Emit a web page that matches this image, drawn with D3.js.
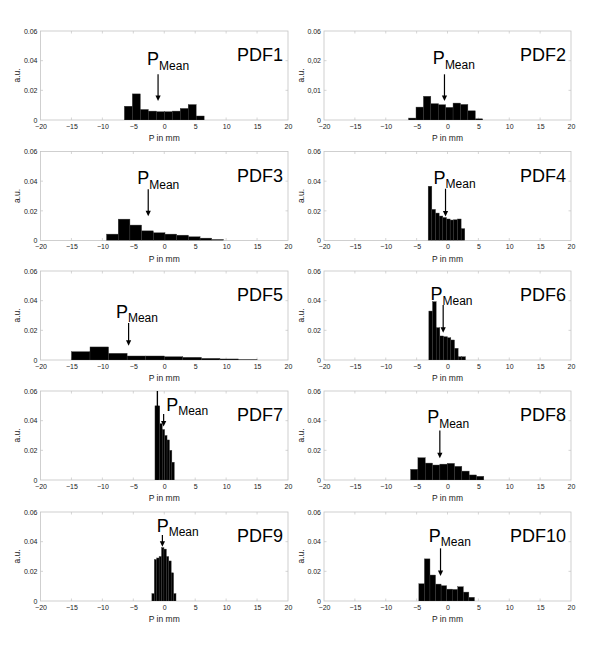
<!DOCTYPE html>
<html>
<head>
<meta charset="utf-8">
<script src="https://cdn.jsdelivr.net/npm/d3@7"></script>
<style>
  body { margin: 0; background: #fff; }
  text { font-family: "Liberation Sans", Arial, sans-serif; }
</style>
</head>
<body>
<svg id="vis"></svg>
<script>
//DATOS--------------------------------------------------------------------------------------------
const NOMBRES = ["PDF1", "PDF2", "PDF3", "PDF4", "PDF5", "PDF6", "PDF7", "PDF8", "PDF9", "PDF10"];

// inicio del primer bin y ancho de bin (mm)
const INICIO_BIN = [-6.45, -6.3, -9.33, -3.13, -15, -3.02, -1.5, -5.98, -2.0, -4.64];
const ANCHO_BIN = [1.29, 1.2, 1.89, 0.593, 3, 0.593, 0.39, 1.186, 0.39, 0.9];

// alturas de cada bin (a.u.)
const PDF1 = [0.0093, 0.0176, 0.0071, 0.006, 0.0056, 0.0056, 0.006, 0.0078, 0.0104, 0.0027];
const PDF2 = [0.0013, 0.0087, 0.016, 0.011, 0.0103, 0.0085, 0.0114, 0.0105, 0.0062, 0.0008];
const PDF3 = [0.0043, 0.0144, 0.0104, 0.0065, 0.0052, 0.0043, 0.0036, 0.0025, 0.0016, 0.0007];
const PDF4 = [0.0366, 0.021, 0.0185, 0.0165, 0.0155, 0.0145, 0.0138, 0.014, 0.0145, 0.008];
const PDF5 = [0.0056, 0.0088, 0.0045, 0.0027, 0.0027, 0.0022, 0.0018, 0.0011, 0.0007, 0.0002];
const PDF6 = [0.033, 0.0393, 0.0218, 0.0162, 0.0157, 0.015, 0.0135, 0.0079, 0.0022, 0.0022];
const PDF7 = [0.05, 0.05, 0.038, 0.034, 0.03, 0.027, 0.02, 0.012];
const PDF8 = [0.0072, 0.015, 0.0114, 0.0101, 0.0107, 0.0112, 0.0092, 0.006, 0.0034, 0.0025];
const PDF9 = [0.005, 0.028, 0.029, 0.03, 0.036, 0.035, 0.03, 0.027, 0.019, 0.005];
const PDF10 = [0.0116, 0.0284, 0.0175, 0.0114, 0.0103, 0.008, 0.0078, 0.0096, 0.006, 0.0025];
const ALTURAS = [PDF1, PDF2, PDF3, PDF4, PDF5, PDF6, PDF7, PDF8, PDF9, PDF10];

// pico angosto de PDF7 (sale por arriba del eje)
const PICO_PDF7 = { x0: -1.22, x1: -1.0, y: 0.065 };

// flecha P_Mean: posicion media (mm), inicio y punta (a.u.)
const MEDIA = [-1.0, -0.49, -2.59, -0.32, -5.76, -0.7, -0.1, -1.24, -0.3, -1.13];
const FLECHA_INICIO = [0.0308, 0.0308, 0.0346, 0.0349, 0.025, 0.037, 0.0445, 0.0333, 0.0445, 0.0355];
const FLECHA_PUNTA = [0.0128, 0.0128, 0.0164, 0.0162, 0.0096, 0.0184, 0.036, 0.0146, 0.0366, 0.0169];

const X_TICKS = [-20, -15, -10, -5, 0, 5, 10, 15, 20];
const Y_TICKS = [0, 0.02, 0.04, 0.06];
const Y_LABELS = ["0", "0.02", "0.04", "0.06"];
const Y_LABELS_PDF2 = ["0", "0,01", "0,02", "0.06"];

//LAYOUT-------------------------------------------------------------------------------------------
const WIDTH = 600;
const HEIGHT = 646;
const COLUMNAS = [
  { x0: 40.5, x1: 288 },
  { x0: 324, x1: 571 },
];
const FILAS_TOP = [31, 151.5, 271, 391, 512];
const ALTO_PANEL = 89;
// desplazamiento del texto P_Mean respecto a la flecha (px)
const LABEL_DX = [-11, -11.6, -11, -12, -12.7, -12.7, 2.5, -12.7, -5.7, -11.7];
const LABEL_GAP = [9.3, 10, 4.7, 5, 5, 5, 3, 7.4, 3, 6.6];
const GRIS = "#c4c4c4";

const svg = d3.select("#vis").attr("width", WIDTH).attr("height", HEIGHT);
const defs = svg.append("defs");

//FUNCIONES----------------------------------------------------------------------------------------
function dibujarPanel(i) {
  const col = COLUMNAS[i % 2];
  const top = FILAS_TOP[Math.floor(i / 2)];
  const bottom = top + ALTO_PANEL;

  const escalaX = d3.scaleLinear().domain([-20, 20]).range([col.x0, col.x1]);
  const escalaY = d3.scaleLinear().domain([0, 0.06]).range([bottom, top]);

  const g = svg.append("g").attr("class", "panel");

  defs
    .append("clipPath")
    .attr("id", "clip" + i)
    .append("rect")
    .attr("x", col.x0)
    .attr("y", top)
    .attr("width", col.x1 - col.x0)
    .attr("height", ALTO_PANEL);

  // marco
  g.append("rect")
    .attr("x", col.x0)
    .attr("y", top)
    .attr("width", col.x1 - col.x0)
    .attr("height", ALTO_PANEL)
    .attr("fill", "none")
    .attr("stroke", GRIS)
    .attr("stroke-width", 0.8);

  // eje X
  const ejeX = d3.axisBottom(escalaX).tickValues(X_TICKS).tickSize(0).tickPadding(4);
  const gx = g.append("g").attr("transform", `translate(0, ${bottom})`).call(ejeX);
  gx.select(".domain").remove();
  gx.selectAll("text").attr("font-size", 7).attr("fill", "#222").attr("font-family", null);

  // eje Y
  const etiquetas = i === 1 ? Y_LABELS_PDF2 : Y_LABELS;
  const ejeY = d3
    .axisLeft(escalaY)
    .tickValues(Y_TICKS)
    .tickSize(0)
    .tickPadding(3)
    .tickFormat((d, k) => etiquetas[k]);
  const gy = g.append("g").attr("transform", `translate(${col.x0}, 0)`).call(ejeY);
  gy.select(".domain").remove();
  gy.selectAll("text").attr("font-size", 7).attr("fill", "#222").attr("font-family", null);

  // marcas cortas dentro del marco
  g.selectAll(".tx")
    .data(X_TICKS.slice(1, -1))
    .join("line")
    .attr("x1", (d) => escalaX(d))
    .attr("x2", (d) => escalaX(d))
    .attr("y1", bottom)
    .attr("y2", bottom - 2.5)
    .attr("stroke", GRIS)
    .attr("stroke-width", 0.7);
  g.selectAll(".tx2")
    .data(X_TICKS.slice(1, -1))
    .join("line")
    .attr("x1", (d) => escalaX(d))
    .attr("x2", (d) => escalaX(d))
    .attr("y1", top)
    .attr("y2", top + 2.5)
    .attr("stroke", GRIS)
    .attr("stroke-width", 0.7);
  g.selectAll(".ty")
    .data(Y_TICKS.slice(1, -1))
    .join("line")
    .attr("x1", col.x0)
    .attr("x2", col.x0 + 2.5)
    .attr("y1", (d) => escalaY(d))
    .attr("y2", (d) => escalaY(d))
    .attr("stroke", GRIS)
    .attr("stroke-width", 0.7);
  g.selectAll(".ty2")
    .data(Y_TICKS.slice(1, -1))
    .join("line")
    .attr("x1", col.x1)
    .attr("x2", col.x1 - 2.5)
    .attr("y1", (d) => escalaY(d))
    .attr("y2", (d) => escalaY(d))
    .attr("stroke", GRIS)
    .attr("stroke-width", 0.7);

  // titulos de ejes
  g.append("text")
    .attr("x", (col.x0 + col.x1) / 2)
    .attr("y", bottom + 21)
    .attr("text-anchor", "middle")
    .attr("font-size", 8.5)
    .attr("fill", "#222")
    .text("P in mm");
  g.append("text")
    .attr("transform", `translate(${col.x0 - 20.5}, ${(top + bottom) / 2}) rotate(-90)`)
    .attr("text-anchor", "middle")
    .attr("font-size", 8.5)
    .attr("fill", "#222")
    .text("a.u.");

  // barras del histograma
  const inicio = INICIO_BIN[i];
  const ancho = ANCHO_BIN[i];
  const barras = g.append("g").attr("clip-path", `url(#clip${i})`);
  barras
    .selectAll("rect")
    .data(ALTURAS[i])
    .join("rect")
    .attr("x", (d, k) => escalaX(inicio + k * ancho))
    .attr("width", (d, k) => escalaX(inicio + (k + 1) * ancho) - escalaX(inicio + k * ancho))
    .attr("y", (d) => escalaY(d))
    .attr("height", (d) => bottom - escalaY(d))
    .attr("fill", "#000")
    .attr("stroke", "#3a3a3a")
    .attr("stroke-width", 0.4);

  if (i === 6) {
    barras
      .append("rect")
      .attr("x", escalaX(PICO_PDF7.x0))
      .attr("width", escalaX(PICO_PDF7.x1) - escalaX(PICO_PDF7.x0))
      .attr("y", escalaY(PICO_PDF7.y))
      .attr("height", bottom - escalaY(PICO_PDF7.y))
      .attr("fill", "#000");
  }

  // flecha P_Mean
  const xm = escalaX(MEDIA[i]);
  const y0 = escalaY(FLECHA_INICIO[i]);
  const y1 = escalaY(FLECHA_PUNTA[i]);
  g.append("line")
    .attr("x1", xm)
    .attr("x2", xm)
    .attr("y1", y0)
    .attr("y2", y1 - 4)
    .attr("stroke", "#000")
    .attr("stroke-width", 1.2);
  g.append("path")
    .attr("d", `M${xm - 2.6},${y1 - 5.5} L${xm + 2.6},${y1 - 5.5} L${xm},${y1} Z`)
    .attr("fill", "#000");

  const label = g
    .append("text")
    .attr("x", xm + LABEL_DX[i])
    .attr("y", y0 - LABEL_GAP[i])
    .attr("fill", "#000");
  label.append("tspan").attr("font-size", 18).text("P");
  label.append("tspan").attr("font-size", 12).attr("dy", 4.5).text("Mean");

  // nombre del panel
  g.append("text")
    .attr("x", col.x1 - 5)
    .attr("y", top + 30)
    .attr("text-anchor", "end")
    .attr("font-size", 18)
    .attr("fill", "#000")
    .text(NOMBRES[i]);
}

//CODIGO A EJECUTAR--------------------------------------------------------------------------------
NOMBRES.forEach((d, i) => dibujarPanel(i));
</script>
</body>
</html>
